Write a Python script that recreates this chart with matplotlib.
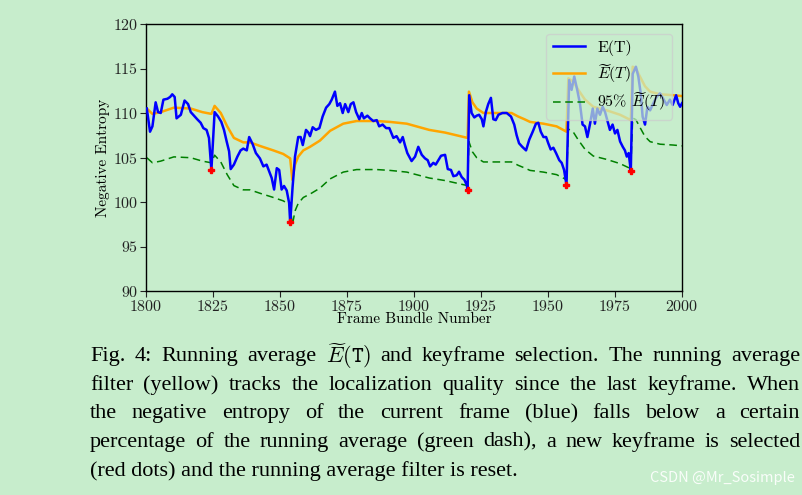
import matplotlib
matplotlib.use("Agg")
import matplotlib.pyplot as plt
import numpy as np

# ---------------- data ----------------
frames = [1800.3, 1801.5, 1802.4, 1803.6, 1804.5, 1805.5, 1806.5, 1808.0, 1809.0, 1809.8,
          1810.7, 1811.4, 1813.0, 1814.4, 1815.7, 1816.7, 1817.9, 1819.1, 1820.4, 1821.4,
          1822.6, 1823.5, 1824.4, 1825.6, 1826.9, 1828.1, 1829.1, 1830.1, 1831.0, 1831.6,
          1832.8, 1834.1, 1835.3, 1836.3, 1837.6, 1838.5, 1839.8, 1841.0, 1842.5, 1843.8,
          1845.0, 1846.0, 1846.9, 1847.8, 1848.8, 1849.7, 1850.6, 1851.5, 1852.5, 1853.4,
          1853.8, 1854.7, 1855.6, 1856.8, 1857.7, 1858.5, 1859.7, 1860.6, 1861.2, 1862.2,
          1863.4, 1864.7, 1865.9, 1867.2, 1868.4, 1869.3, 1870.5, 1871.4, 1872.4, 1873.4,
          1874.3, 1875.5, 1876.4, 1877.4, 1878.4, 1879.6, 1880.5, 1881.3, 1882.6, 1883.6,
          1884.8, 1886.1, 1887.0, 1888.3, 1889.6, 1890.8, 1892.3, 1893.5, 1894.8, 1895.8,
          1896.6, 1897.5, 1899.1, 1900.4, 1901.6, 1902.9, 1904.1, 1905.1, 1906.0, 1907.2,
          1908.1, 1909.1, 1910.1, 1911.6, 1912.6, 1913.8, 1914.7, 1915.9, 1916.8, 1917.8,
          1918.8, 1919.7, 1920.0, 1920.6, 1921.5, 1922.5, 1923.4, 1924.3, 1925.3, 1925.9,
          1926.8, 1927.7, 1928.7, 1929.6, 1930.5, 1931.5, 1933.0, 1934.6, 1936.2, 1937.4,
          1938.3, 1939.2, 1940.4, 1941.8, 1943.0, 1944.3, 1945.5, 1946.4, 1947.3, 1948.3,
          1949.3, 1950.1, 1951.0, 1952.0, 1953.0, 1954.2, 1955.1, 1956.0, 1956.9, 1957.9,
          1958.8, 1959.8, 1960.9, 1961.9, 1962.9, 1963.8, 1964.7, 1965.7, 1966.7, 1967.5,
          1968.4, 1969.4, 1970.4, 1971.3, 1972.1, 1973.1, 1974.1, 1975.0, 1975.9, 1976.9,
          1977.9, 1978.7, 1979.4, 1980.1, 1980.6, 1980.9, 1981.6, 1982.8, 1983.7, 1984.6,
          1985.3, 1986.2, 1987.1, 1988.1, 1989.3, 1990.5, 1991.8, 1993.0, 1994.3, 1995.5,
          1996.5, 1997.8, 1998.6, 1999.3, 2000.0]
entropy = [110.5, 107.9, 108.5, 111.2, 110.1, 110.0, 111.5, 111.6, 111.8, 112.1,
           111.8, 109.4, 109.8, 111.4, 111.0, 110.1, 109.7, 109.3, 108.9, 108.3,
           108.1, 107.2, 103.6, 110.1, 109.6, 109.0, 108.1, 106.8, 105.7, 103.7,
           104.2, 105.1, 105.8, 106.0, 105.8, 107.3, 106.5, 105.5, 104.9, 104.0,
           104.2, 103.4, 102.7, 101.4, 103.8, 103.6, 101.4, 101.8, 101.3, 99.9,
           97.7, 101.7, 105.1, 107.3, 107.3, 106.4, 108.1, 107.8, 107.4, 108.4,
           108.1, 108.3, 109.6, 110.6, 111.0, 111.5, 112.4, 110.8, 111.1, 110.0,
           111.0, 110.1, 111.0, 111.2, 110.1, 109.3, 110.0, 109.4, 109.7, 109.4,
           109.1, 109.2, 108.5, 108.7, 108.3, 108.3, 107.2, 107.4, 106.7, 107.3,
           106.4, 105.5, 104.6, 105.1, 106.2, 105.3, 104.9, 104.7, 104.0, 104.4,
           104.2, 104.7, 105.2, 105.3, 103.7, 103.6, 102.9, 103.0, 103.4, 102.8,
           102.5, 101.9, 101.3, 112.0, 110.0, 109.5, 109.7, 109.8, 109.3, 108.5,
           110.1, 111.0, 111.7, 109.3, 109.2, 109.8, 110.0, 110.0, 109.6, 108.7,
           107.5, 106.6, 106.2, 105.8, 107.0, 107.9, 108.8, 108.9, 107.9, 107.3,
           107.3, 106.6, 105.9, 106.1, 105.5, 104.7, 104.4, 103.6, 101.9, 113.7,
           112.6, 114.1, 112.6, 111.1, 108.7, 108.5, 107.3, 108.8, 110.5, 108.8,
           110.5, 109.8, 110.7, 110.1, 109.2, 108.1, 108.7, 107.7, 108.1, 106.8,
           106.2, 105.8, 105.1, 105.5, 104.2, 103.5, 114.4, 115.2, 114.1, 112.2,
           109.6, 108.7, 110.7, 110.3, 111.1, 111.8, 112.2, 111.6, 110.9, 111.5,
           110.9, 112.0, 111.1, 110.7, 111.1]

avg_frames = [1800.3, 1802.4, 1805.5, 1810.4, 1816.7, 1821.0, 1824.4, 1825.6, 1827.9, 1830.3,
              1832.8, 1836.3, 1838.8, 1842.5, 1847.5, 1851.2, 1853.8, 1854.6, 1855.6, 1856.8,
              1858.7, 1861.2, 1864.9, 1868.7, 1873.6, 1878.6, 1886.1, 1891.0, 1897.3, 1905.7,
              1911.6, 1920.0, 1920.5, 1921.8, 1923.4, 1925.9, 1927.7, 1932.7, 1936.4, 1938.9,
              1941.2, 1943.3, 1948.3, 1953.2, 1956.9, 1957.6, 1959.5, 1961.3, 1963.8, 1966.9,
              1971.9, 1976.9, 1980.9, 1981.6, 1982.8, 1984.3, 1986.2, 1988.1, 1991.8, 1996.7,
              2000.0]
running_avg = [110.5, 109.9, 110.1, 110.6, 110.5, 110.1, 109.9, 110.8, 110.0, 108.5,
               107.2, 106.7, 106.7, 106.3, 105.8, 105.4, 104.9, 102.5, 104.2, 105.1,
               105.8, 106.2, 106.9, 108.0, 108.8, 109.1, 109.1, 109.0, 108.8, 108.1,
               107.8, 107.2, 112.4, 111.2, 110.5, 110.0, 110.0, 110.0, 110.0, 109.6,
               109.3, 109.0, 108.8, 108.5, 107.9, 113.9, 113.5, 112.6, 111.5, 110.7,
               110.3, 109.8, 109.2, 115.2, 115.0, 114.1, 113.0, 112.4, 112.1, 112.0,
               111.9]
threshold_pct = 0.95

key_frames = [1824.4, 1853.8, 1920.0, 1956.9, 1980.9]
key_values = [103.6, 97.7, 101.3, 101.9, 103.5]

caption_lines = [
    r"Fig. 4: Running average $\widetilde{E}(\mathtt{T})$ and keyframe selection. The running average",
    "filter (yellow) tracks the localization quality since the last keyframe. When",
    "the negative entropy of the current frame (blue) falls below a certain",
    "percentage of the running average (green dash), a new keyframe is selected",
    "(red dots) and the running average filter is reset.",
]

# ---------------- style ----------------
bg = "#C7EDCC"
plt.rcParams["font.family"] = "serif"
plt.rcParams["font.serif"] = ["cmr10", "DejaVu Serif"]
plt.rcParams["mathtext.fontset"] = "cm"
plt.rcParams["axes.formatter.use_mathtext"] = True

W, H = 803, 495
fig = plt.figure(figsize=(W / 100, H / 100), dpi=100, facecolor=bg)
ax = fig.add_axes([146 / W, 1 - 291 / H, (682 - 146) / W, (291 - 24) / H], facecolor=bg)

ax.plot(frames, entropy, color="blue", lw=1.8, label="E(T)", zorder=3)
ax.plot(avg_frames, running_avg, color="orange", lw=1.8, label=r"$\widetilde{E}(T)$", zorder=2)
ax.plot(avg_frames, np.array(running_avg) * threshold_pct, color="green", lw=1.1,
        ls=(0, (5, 3)), label=r"95% $\widetilde{E}(T)$", zorder=2)
ax.plot(key_frames, key_values, ls="none", marker="P", color="red", ms=4.5, zorder=4)

ax.set_xlim(1800, 2000)
ax.set_ylim(90, 120)
ax.set_xticks(np.arange(1800, 2001, 25))
ax.set_yticks(np.arange(90, 121, 5))
ax.tick_params(labelsize=11.5, length=4, width=0.8, colors="#222222", pad=1.5)
for s in ax.spines.values():
    s.set_linewidth(1.0)
ax.set_xlabel("Frame Bundle Number", fontsize=11, labelpad=-1)
ax.set_ylabel("Negative Entropy", fontsize=11, labelpad=2)

leg = ax.legend(loc="upper right", fontsize=11.5, framealpha=0.7, facecolor=bg,
                edgecolor="#cccccc", borderaxespad=0.6, labelspacing=0.35)

# caption, justified to the right edge except the last line
renderer = fig.canvas.get_renderer()
left, right = 90, 800
y0 = 356.5
dy = 28.6
cap_size = 16
for i, line in enumerate(caption_lines):
    yf = 1 - (y0 + i * dy) / H
    words = line.split(" ")
    if i == len(caption_lines) - 1:
        fig.text(left / W, yf, line, fontsize=cap_size, family="Liberation Serif",
                 ha="left", va="center", color="black")
        continue
    texts = [fig.text(0, yf, w, fontsize=cap_size, family="Liberation Serif",
                      ha="left", va="center", color="black") for w in words]
    widths = [t.get_window_extent(renderer).width for t in texts]
    gap = (right - left - sum(widths)) / (len(words) - 1)
    x = left
    for t, w in zip(texts, widths):
        t.set_x(x / W)
        x += w + gap

fig.text(795 / W, 1 - 478 / H, "CSDN @Mr_Sosimple", fontsize=10.5,
         family=["Noto Sans CJK SC", "DejaVu Sans"], color="white", alpha=0.9,
         ha="right", va="center")

fig.savefig("out.png", dpi=100, facecolor=bg)
